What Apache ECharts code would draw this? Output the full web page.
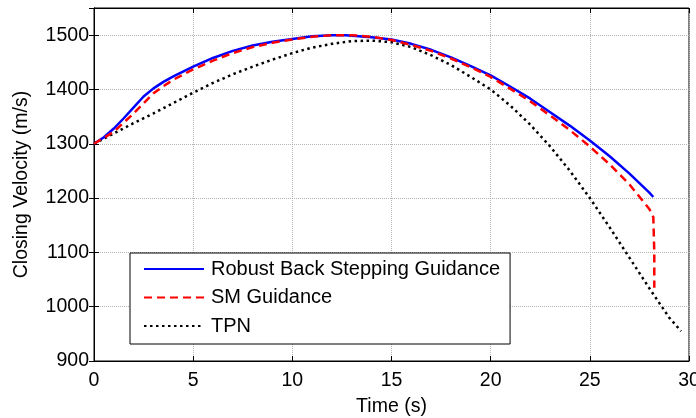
<!DOCTYPE html>
<html>
<head>
<meta charset="utf-8">
<script src="https://cdn.jsdelivr.net/npm/echarts@6/dist/echarts.min.js"></script>
<style>
  html, body { margin: 0; padding: 0; background: #fff; }
  #chart { width: 696px; height: 418px; }
</style>
</head>
<body>
<div id="chart"></div>
<script>
// closing velocity (m/s) vs time (s)
const robustTime = [0, 0.5, 1, 1.5, 2, 2.5, 3, 3.5, 4, 5, 6, 7, 8, 9, 10, 11, 12, 12.7, 13, 14, 15, 16, 17, 18, 19, 20, 21, 22, 23, 24, 25, 26, 27, 28, 28.2];
const robustVel = [1300, 1312, 1328, 1347, 1367, 1387, 1402, 1414, 1424, 1442, 1458, 1471, 1481, 1488, 1493, 1498, 1500, 1500, 1499, 1496, 1492, 1484, 1473, 1459, 1443, 1426, 1405, 1383, 1358, 1333, 1306, 1277, 1245, 1210, 1202];

const smTime = [0, 1, 2, 3, 3.5, 4, 5, 6, 7, 8, 9, 10, 11, 12, 13, 14, 15, 16, 17, 18, 19, 20, 21, 22, 23, 24, 25, 26, 27, 27.6, 28, 28.2, 28.25, 28.25];
const smVel = [1300, 1322, 1356, 1393, 1406, 1418, 1437, 1453, 1467, 1478, 1486, 1492, 1497, 1500, 1500, 1497, 1491, 1482, 1471, 1457, 1441, 1423, 1401, 1378, 1352, 1325, 1295, 1262, 1225, 1198, 1180, 1165, 1100, 1035];

const tpnTime = [0, 1, 2, 3, 4, 5, 6, 7, 8, 9, 10, 11, 12, 13, 14, 15, 16, 17, 18, 19, 20, 21, 22, 23, 24, 25, 26, 27, 28, 29, 29.6];
const tpnVel = [1300, 1319, 1338, 1356, 1375, 1394, 1412, 1428, 1442, 1455, 1467, 1477, 1484, 1489, 1490, 1487, 1478, 1463, 1445, 1423, 1400, 1370, 1335, 1295, 1250, 1200, 1146, 1090, 1034, 980, 955];

const seriesNames = ["Robust Back Stepping Guidance", "SM Guidance", "TPN"];

const zip = (xs, ys) => xs.map((x, i) => [x, ys[i]]);

const font = "Liberation Sans, Arial, sans-serif";
const gridLine = { show: true, lineStyle: { color: "#b4b4b4", type: [1, 1], width: 1 } };
const tickIn = { show: true, inside: true, length: 5, lineStyle: { color: "#000" } };
const plain = v => String(v);

const mychart = echarts.init(document.getElementById("chart"));
mychart.setOption({
  animation: false,
  backgroundColor: "#fff",
  grid: {
    left: 94, right: 7, top: 8, bottom: 57,
    outerBoundsMode: "none",
    show: true, borderColor: "#000", borderWidth: 1
  },
  legend: {
    orient: "vertical",
    left: 130,
    top: 253,
    padding: [6, 10, 8, 13],
    itemWidth: 60,
    itemHeight: 14,
    itemGap: 8.5,
    backgroundColor: "#fff",
    borderColor: "#000",
    borderWidth: 1,
    itemStyle: { opacity: 0 },
    textStyle: { fontFamily: font, fontSize: 20, color: "#000", padding: [0, 0, 0, 2] },
    data: seriesNames
  },
  xAxis: [
    {
      type: "value",
      min: 0,
      max: 30,
      interval: 5,
      name: "Time (s)",
      nameLocation: "middle",
      nameGap: 36,
      nameTextStyle: { fontFamily: font, fontSize: 19.5, color: "#000" },
      axisLine: { show: true, onZero: false, lineStyle: { color: "#000" } },
      axisTick: tickIn,
      axisLabel: { fontFamily: font, fontSize: 19.5, color: "#000", margin: 10, formatter: plain },
      splitLine: gridLine
    },
    {
      type: "value",
      position: "top",
      min: 0,
      max: 30,
      interval: 5,
      axisLine: { show: true, lineStyle: { color: "#000" } },
      axisTick: tickIn,
      axisLabel: { show: false },
      splitLine: { show: false }
    }
  ],
  yAxis: [
    {
      type: "value",
      min: 900,
      max: 1550,
      interval: 100,
      name: "Closing Velocity (m/s)",
      nameLocation: "middle",
      nameGap: 62,
      nameTextStyle: { fontFamily: font, fontSize: 19.5, color: "#000" },
      axisLine: { show: true, lineStyle: { color: "#000" } },
      axisTick: tickIn,
      axisLabel: { fontFamily: font, fontSize: 19.5, color: "#000", margin: 5, showMaxLabel: false, formatter: plain },
      splitLine: gridLine
    },
    {
      type: "value",
      position: "right",
      min: 900,
      max: 1550,
      interval: 100,
      axisLine: { show: true, lineStyle: { color: "#000" } },
      axisTick: tickIn,
      axisLabel: { show: false },
      splitLine: { show: false }
    }
  ],
  series: [
    {
      name: seriesNames[0],
      type: "line",
      symbol: "none",
      data: zip(robustTime, robustVel),
      lineStyle: { color: "#0000ff", width: 2.5, type: "solid" },
      itemStyle: { color: "#0000ff" },
      z: 3
    },
    {
      name: seriesNames[1],
      type: "line",
      symbol: "none",
      data: zip(smTime, smVel),
      lineStyle: { color: "#ff0000", width: 2.5, type: [8, 5] },
      itemStyle: { color: "#ff0000" },
      z: 4
    },
    {
      name: seriesNames[2],
      type: "line",
      symbol: "none",
      data: zip(tpnTime, tpnVel),
      lineStyle: { color: "#000", width: 2.5, type: [2.5, 3.5] },
      itemStyle: { color: "#000" },
      z: 2
    }
  ]
});
</script>
</body>
</html>
